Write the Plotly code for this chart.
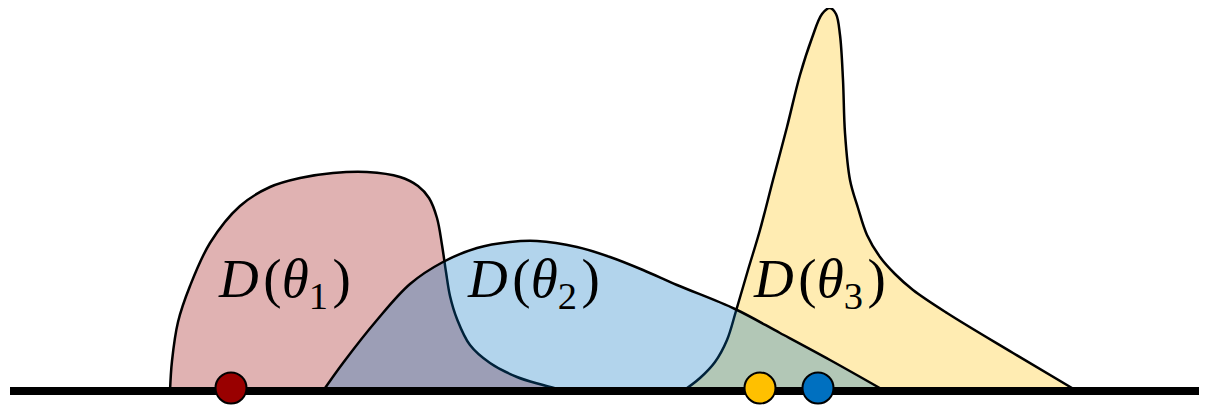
import plotly.graph_objects as go

# Outline points of the three densities (x position, height above baseline)
red_x = [170, 172, 178, 190, 210, 240, 270, 300, 333, 367, 400, 418, 429, 437, 442, 446,
         450, 457, 470, 490, 517, 543, 565]
red_y = [0, 30, 69, 105, 148, 185, 204, 213, 218, 219, 214, 205, 193, 173, 146, 119,
         95, 72, 46, 28, 14, 6, 0]

blue_x = [323, 343, 377, 410, 443, 477, 510, 537, 577, 610, 643, 677, 735, 780, 830, 885]
blue_y = [0, 28, 71, 107, 129, 143, 149, 150, 144, 134, 121, 106, 82, 58, 31, 0]

yellow_x = [683, 700, 715, 727, 736, 748, 760, 773, 787, 800, 812, 822, 830, 836, 840, 843, 845, 850,
            858, 867, 880, 895, 913, 947, 1013, 1077]
yellow_y = [0, 13, 29, 51, 80, 121, 161, 211, 264, 316, 353, 377, 383, 377, 356, 311, 258, 211,
            183, 156, 134, 117, 101, 78, 38, 0]

labels = ["<i>D</i>\u200a(<i>θ</i><sub>1</sub>\u200a)",
          "<i>D</i>\u200a(<i>θ</i><sub>2</sub>\u200a)",
          "<i>D</i>\u200a(<i>θ</i><sub>3</sub>\u200a)"]
label_x = [284, 533, 819]
label_y = [109, 109, 109]

dot_x = [231, 760, 818]
dot_y = [3, 3, 3]
dot_colors = ["#990000", "#FFC000", "#0070C0"]

axis_x = [10, 1215]
axis_y = [0, 0]

fig = go.Figure()
for xs, ys, fc in [
    (red_x, red_y, "rgba(153,0,0,0.3)"),
    (yellow_x, yellow_y, "rgba(255,192,0,0.3)"),
    (blue_x, blue_y, "rgba(0,112,192,0.3)"),
]:
    fig.add_trace(go.Scatter(x=xs, y=ys, mode="lines", fill="toself", fillcolor=fc,
                             line=dict(color="black", width=2.5, shape="spline", smoothing=1.0),
                             hoverinfo="skip", showlegend=False))

fig.add_trace(go.Scatter(x=axis_x, y=axis_y, mode="lines", line=dict(color="black", width=8),
                         hoverinfo="skip", showlegend=False))

fig.add_trace(go.Scatter(x=dot_x, y=dot_y, mode="markers",
                         marker=dict(size=31, color=dot_colors, line=dict(color="black", width=2)),
                         hoverinfo="skip", showlegend=False, cliponaxis=False))

for t, x, y in zip(labels, label_x, label_y):
    fig.add_annotation(x=x, y=y, text=t, showarrow=False, xanchor="center", yanchor="middle",
                       font=dict(family="Liberation Serif", size=55, color="black"))

# the page body has an 8px margin, so the ranges are offset by 8px to line up with the window
fig.update_layout(
    width=1207, height=405,
    margin=dict(l=0, r=0, t=0, b=0),
    paper_bgcolor="white", plot_bgcolor="white",
    xaxis=dict(range=[8, 1215], visible=False, fixedrange=True),
    yaxis=dict(range=[-22, 383], visible=False, fixedrange=True),
)

fig.write_html("out.html")
